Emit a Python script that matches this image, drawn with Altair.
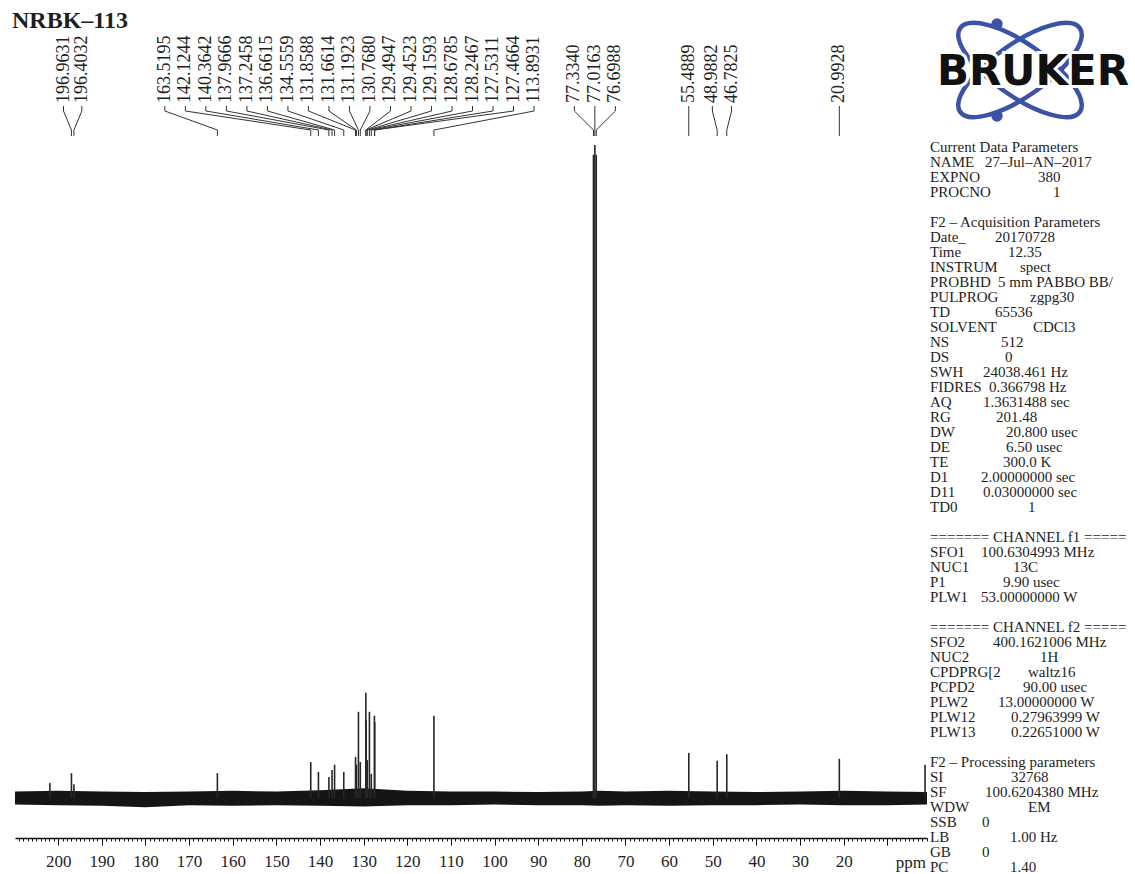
import math
import altair as alt
import pandas as pd

# ---------------- data ----------------
TITLE = "NRBK–113"

peak_ppm = [196.9631, 196.4032,
            163.5195, 142.1244, 140.3642, 137.9666, 137.2458, 136.6615, 134.5559,
            131.8588, 131.6614, 131.1923, 130.7680, 129.4947, 129.4523, 129.1593,
            128.6785, 128.2467, 127.5311, 127.4664, 113.8931,
            77.3340, 77.0163, 76.6988,
            55.4889, 48.9882, 46.7825, 20.9928]
peak_height = [3.8, 2.1,
               3.8, 5.5, 4.0, 3.2, 4.3, 5.1, 4.0,
               6.3, 5.1, 13.2, 5.5, 16.1, 11.9, 5.8,
               13.2, 3.7, 12.6, 11.6, 12.6,
               98.5, 100.0, 98.5,
               6.9, 5.7, 6.7, 6.0]
peak_group = [0, 0] + [1] * 19 + [2, 2, 2] + [3, 4, 4, 5]

# unlabelled spikes
extra_ppm = [201.9, 1.35]
extra_height = [2.3, 5.1]

# envelope of the noise band (relative intensity)
noise_ppm = [209.9, 200, 190, 180, 170, 160, 150, 140, 130, 120, 110, 100,
             90, 80, 76, 70, 60, 50, 40, 30, 20, 10, 0.9]
noise_upper = [1.0, 1.1, 1.0, 0.9, 1.0, 1.1, 1.0, 1.2, 1.5, 1.1, 1.0, 1.0,
               0.9, 1.0, 1.1, 1.0, 1.1, 1.0, 0.9, 1.0, 1.1, 1.0, 0.9]
noise_lower = [-1.0, -1.1, -1.2, -1.4, -1.1, -1.2, -1.1, -1.2, -1.3, -1.1, -1.1, -1.0,
               -1.1, -1.1, -1.2, -1.1, -1.2, -1.1, -1.1, -1.0, -1.1, -1.1, -1.0]

minor_ticks = list(range(1, 210))

header_text = ["Current Data Parameters", "F2 – Acquisition Parameters",
               "======= CHANNEL f1 =====", "======= CHANNEL f2 =====",
               "F2 – Processing parameters"]
header_rows = [0, 5, 26, 32, 41]

param_keys = ["NAME", "EXPNO", "PROCNO", "Date_", "Time", "INSTRUM", "PROBHD", "PULPROG",
              "TD", "SOLVENT", "NS", "DS", "SWH", "FIDRES", "AQ", "RG", "DW", "DE", "TE",
              "D1", "D11", "TD0", "SFO1", "NUC1", "P1", "PLW1", "SFO2", "NUC2", "CPDPRG[2",
              "PCPD2", "PLW2", "PLW12", "PLW13", "SI", "SF", "WDW", "SSB", "LB", "GB", "PC"]
param_values = ["27–Jul–AN–2017", "380", "1", "20170728", "12.35", "spect", "5 mm PABBO BB/",
                "zgpg30", "65536", "CDCl3", "512", "0", "24038.461 Hz", "0.366798 Hz",
                "1.3631488 sec", "201.48", "20.800 usec", "6.50 usec", "300.0 K",
                "2.00000000 sec", "0.03000000 sec", "1", "100.6304993 MHz", "13C",
                "9.90 usec", "53.00000000 W", "400.1621006 MHz", "1H", "waltz16",
                "90.00 usec", "13.00000000 W", "0.27963999 W", "0.22651000 W", "32768",
                "100.6204380 MHz", "EM", "0", "1.00 Hz", "0", "1.40"]
param_rows = [1, 2, 3, 6, 7, 8, 9, 10, 11, 12, 13, 14, 15, 16, 17, 18, 19, 20, 21, 22, 23, 24,
              27, 28, 29, 30, 33, 34, 35, 36, 37, 38, 39, 42, 43, 44, 45, 46, 47, 48]

# ---------------- layout (positions, not data) ----------------
param_value_x = [985, 1038, 1053, 995, 1008, 1020, 998, 1030, 995, 1033, 1001, 1005, 983, 989,
                 983, 996, 1006, 1006, 1003, 981, 983, 1028, 981, 1013, 1003, 981, 993, 1040,
                 1028, 1023, 998, 1011, 1011, 1011, 985, 1028, 982, 1010, 982, 1010]

X_DOMAIN = [209.9, 0.9]
X_RANGE = [15, 927]
Y_RANGE = [798, 145]
GROUP_GAP = {0: 4.2, 1: 4.7, 2: 4.7, 3: 4.7, 4: 4.4, 5: 4.7}
SERIF = "Liberation Serif"
INK = "#1e1e1e"
BLUE = "#3c52a6"
PANEL_FS = 15


def xscale():
    return alt.Scale(domain=X_DOMAIN, range=X_RANGE, nice=False, zero=False)


yscale = alt.Scale(domain=[0, 100], range=Y_RANGE, nice=False, zero=False)
pxy = alt.Scale(domain=[0, 874], range=[0, 874], nice=False, zero=False)
pxx = alt.Scale(domain=[0, 1135], range=[0, 1135], nice=False, zero=False)
rowscale = alt.Scale(domain=[0, 48], range=[147, 867], nice=False, zero=False)

# label spreading (Bruker-style peak label layout)
label_ppm = [0.0] * len(peak_ppm)
for g in sorted(set(peak_group)):
    idx = [i for i, gg in enumerate(peak_group) if gg == g]
    idx.sort(key=lambda i: -peak_ppm[i])
    c = sum(peak_ppm[i] for i in idx) / len(idx)
    n = len(idx)
    for k, i in enumerate(idx):
        label_ppm[i] = c + GROUP_GAP[g] * ((n - 1) / 2 - k)

peaks_df = pd.DataFrame({"ppm": peak_ppm + extra_ppm,
                         "h": peak_height + extra_height})
peaks_df["base"] = 0.0
noise_df = pd.DataFrame({"ppm": noise_ppm, "up": noise_upper, "lo": noise_lower})
labels_df = pd.DataFrame({"lppm": label_ppm, "txt": [f"{p:.4f}" for p in peak_ppm]})

conn_rows = []
for i, (lp, pp) in enumerate(zip(label_ppm, peak_ppm)):
    for s, (xx, yy) in enumerate([(lp, 106), (lp, 111), (pp, 130), (pp, 136)]):
        conn_rows.append({"id": i, "step": s, "ppm": xx, "py": yy})
conn_df = pd.DataFrame(conn_rows)

hdr_df = pd.DataFrame({"t": header_text, "row": header_rows})
keys_df = pd.DataFrame({"t": param_keys, "row": param_rows})
vals_df = pd.DataFrame({"t": param_values, "row": param_rows, "vx": param_value_x})

AXIS = alt.Axis(
    values=minor_ticks,
    tickSize={"condition": {"test": "datum.value % 10 === 0", "value": 7}, "value": 3},
    labelExpr="datum.value % 10 === 0 && datum.value >= 20 ? datum.label : ''",
    labelOverlap=False, labelFlush=False, labelFont=SERIF, labelFontSize=17,
    labelColor=INK, labelPadding=8, domainColor="#111", domainWidth=1.3,
    tickColor="#111", tickWidth=1, grid=False, title=None)

noise = alt.Chart(noise_df).mark_area(color="#151515").encode(
    x=alt.X("ppm:Q", scale=xscale(), axis=AXIS),
    y=alt.Y("up:Q", scale=yscale, axis=None),
    y2="lo:Q")

peaks = alt.Chart(peaks_df).mark_rule(color="#262626", strokeWidth=1.6).encode(
    x=alt.X("ppm:Q", scale=xscale(), axis=None),
    y=alt.Y("base:Q", scale=yscale, axis=None),
    y2="h:Q")

conn = alt.Chart(conn_df).mark_line(color="#333", strokeWidth=1).encode(
    x=alt.X("ppm:Q", scale=xscale(), axis=None),
    y=alt.Y("py:Q", scale=pxy, axis=None),
    detail="id:N", order="step:Q")

plabels = alt.Chart(labels_df).mark_text(
    angle=270, align="left", baseline="middle", font=SERIF, fontSize=18, color=INK
).encode(x=alt.X("lppm:Q", scale=xscale(), axis=None), y=alt.value(103), text="txt:N")

title = alt.Chart(pd.DataFrame({"t": [TITLE]})).mark_text(
    align="left", baseline="alphabetic", font=SERIF, fontSize=24, fontWeight="bold", color=INK
).encode(x=alt.value(12), y=alt.value(28), text="t:N")

ppm_lbl = alt.Chart(pd.DataFrame({"t": ["ppm"]})).mark_text(
    align="right", baseline="alphabetic", font=SERIF, fontSize=17, color=INK
).encode(x=alt.value(926), y=alt.value(868), text="t:N")

hdr = alt.Chart(hdr_df).mark_text(
    align="left", baseline="middle", font=SERIF, fontSize=PANEL_FS, color=INK
).encode(x=alt.value(930), y=alt.Y("row:Q", scale=rowscale, axis=None), text="t:N")

keys = alt.Chart(keys_df).mark_text(
    align="left", baseline="middle", font=SERIF, fontSize=PANEL_FS, color=INK
).encode(x=alt.value(930), y=alt.Y("row:Q", scale=rowscale, axis=None), text="t:N")

vals = alt.Chart(vals_df).mark_text(
    align="left", baseline="middle", font=SERIF, fontSize=PANEL_FS, color=INK
).encode(x=alt.X("vx:Q", scale=pxx, axis=None),
         y=alt.Y("row:Q", scale=rowscale, axis=None), text="t:N")


# ---------------- Bruker logo ----------------
def orbit_path(theta_deg, ratio):
    t = math.radians(theta_deg)
    cx, cy = math.cos(t), math.sin(t)
    return (f"M {-cx:.4f} {-cy:.4f} A 1 {ratio:.4f} {theta_deg} 0 1 {cx:.4f} {cy:.4f} "
            f"A 1 {ratio:.4f} {theta_deg} 0 1 {-cx:.4f} {-cy:.4f} Z")


one = pd.DataFrame({"k": [0]})
orbit1 = alt.Chart(one).mark_point(
    shape=orbit_path(35, 0.36), size=146 * 146, filled=False, strokeWidth=4.5,
    color=BLUE, opacity=1).encode(x=alt.value(1020), y=alt.value(70))
orbit2 = alt.Chart(one).mark_point(
    shape=orbit_path(-35, 0.36), size=146 * 146, filled=False, strokeWidth=4.5,
    color=BLUE, opacity=1).encode(x=alt.value(1020), y=alt.value(70))
dots = alt.Chart(pd.DataFrame({"x": [997, 997], "y": [24, 116]})).mark_circle(
    size=130, color=BLUE, opacity=1).encode(
    x=alt.X("x:Q", scale=pxx, axis=None), y=alt.Y("y:Q", scale=pxy, axis=None))
logo_txt = pd.DataFrame({"t": ["BRUKER"]})
brk_halo = alt.Chart(logo_txt).mark_text(
    font="DejaVu Sans", fontWeight="bold", fontSize=42, align="center", baseline="middle",
    color="white", stroke="white", strokeWidth=6).encode(
    x=alt.value(1033), y=alt.value(72), text="t:N")
brk = alt.Chart(logo_txt).mark_text(
    font="DejaVu Sans", fontWeight="bold", fontSize=42, align="center", baseline="middle",
    color="#111").encode(x=alt.value(1033), y=alt.value(72), text="t:N")

chart = alt.layer(
    noise, peaks, conn, plabels, title, ppm_lbl, hdr, keys, vals,
    orbit1, orbit2, dots, brk_halo, brk
).resolve_scale(x="independent", y="independent").properties(
    width=1135, height=838,
    autosize=alt.AutoSizeParams(type="none"),
    padding={"left": 0, "top": 0, "right": 0, "bottom": 36},
    background="white",
).configure_view(stroke=None)

chart.save("out.html", embed_options={"renderer": "svg", "actions": False})
